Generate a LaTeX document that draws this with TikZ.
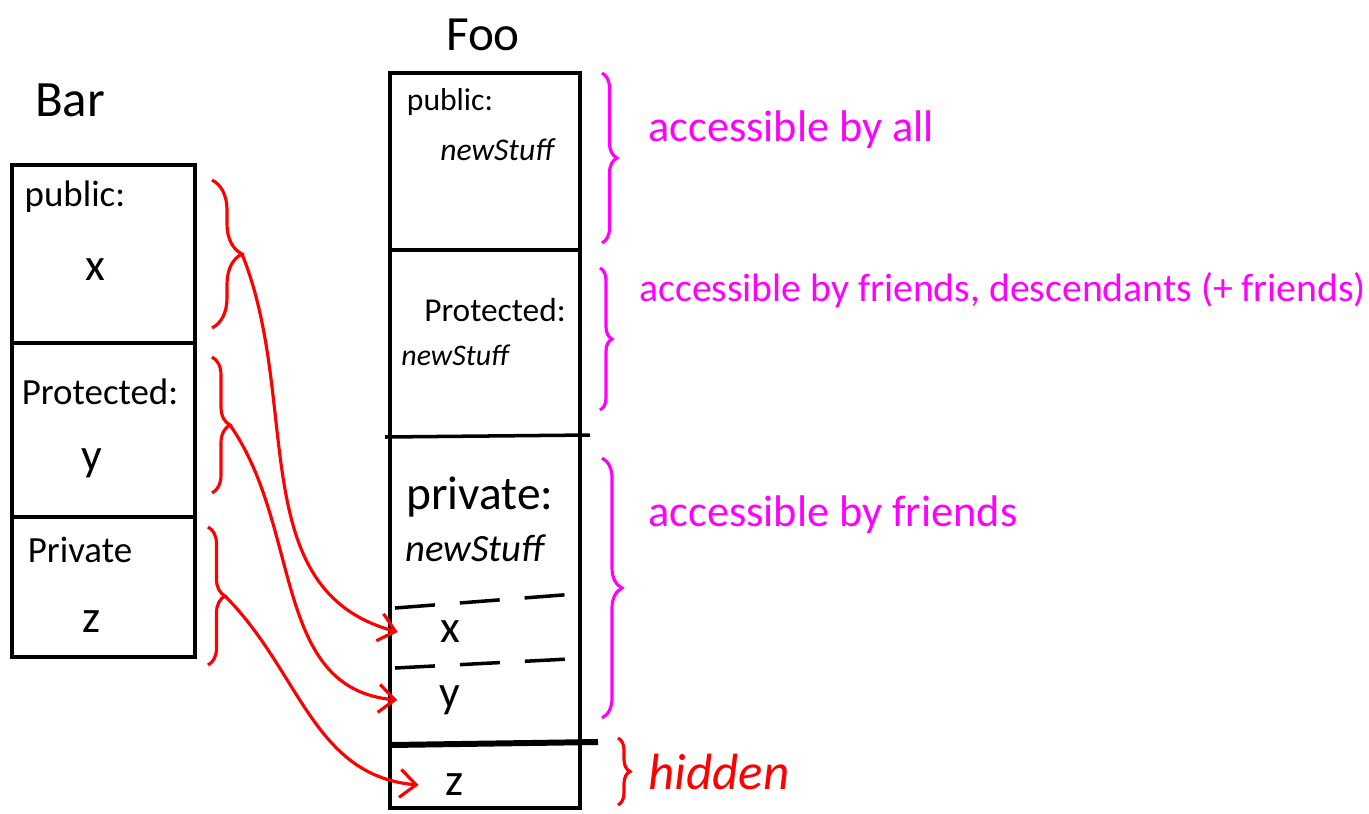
\documentclass[tikz,border=0pt]{standalone}
\usepackage{fontspec}
\setmainfont{Carlito}
\usetikzlibrary{decorations.pathreplacing,arrows.meta}
\definecolor{accent}{RGB}{255,0,255}
\begin{document}
\begin{tikzpicture}[
	box/.style={line width=1pt},
	lbl/.style={font=\fontsize{10.5}{12}\selectfont},
	var/.style={font=\fontsize{13}{15}\selectfont},
	stuff/.style={font=\fontsize{9}{11}\selectfont\itshape},
	note/.style={accent, anchor=west, font=\fontsize{12.6}{15}\selectfont},
	mbrace/.style={accent, line width=0.9pt, decorate, decoration={brace, amplitude=#1}},
	rbrace/.style={red, line width=0.9pt, decorate, decoration={brace, amplitude=#1}},
	link/.style={red, line width=0.9pt, -{Straight Barb[length=1.6mm,width=2.8mm]}}
	]
	\useasboundingbox (0,0) rectangle (13.69,8.13);
	% base class
	\node[font=\fontsize{14.5}{17}\selectfont] (bar) at (0.70,7.13) {Bar};
	\draw[box] (0.12,1.56) rectangle (1.95,6.48);
	\draw[box] (0.12,4.70) -- (1.95,4.70);
	\draw[box] (0.12,2.96) -- (1.95,2.96);
	\node[lbl] (barpub) at (0.75,6.16) {public:};
	\node[var] (barx) at (0.95,5.43) {x};
	\node[lbl] (barprot) at (1.00,4.21) {Protected:};
	\node[var] (bary) at (0.92,3.50) {y};
	\node[lbl] (barpriv) at (0.80,2.63) {Private};
	\node[var] (barz) at (0.92,1.91) {z};
	% derived class
	\node[font=\fontsize{14}{17}\selectfont] (foo) at (4.83,7.78) {Foo};
	\draw[box] (3.90,0.05) rectangle (5.80,7.40);
	\draw[box] (3.90,5.63) -- (5.82,5.63);
	\draw[box] (3.85,3.76) -- (5.90,3.78);
	\draw[box, dashed, dash pattern=on 4mm off 2.5mm] (3.95,2.05) -- (5.88,2.20);
	\draw[box, dashed, dash pattern=on 4mm off 2.5mm] (3.95,1.45) -- (5.88,1.55);
	\draw[line width=1.7pt] (3.90,0.68) -- (5.98,0.71);
	\node[lbl, font=\fontsize{9}{10}\selectfont] (foopub) at (4.50,7.11) {public:};
	\node[stuff] (foonew1) at (4.97,6.63) {newStuff};
	\node[lbl, font=\fontsize{9.5}{11}\selectfont] (fooprot) at (4.95,5.03) {Protected:};
	\node[stuff, font=\fontsize{8.5}{10}\selectfont\itshape] (foonew2) at (4.55,4.58) {newStuff};
	\node[lbl, font=\fontsize{13.5}{15}\selectfont] (foopriv) at (4.80,3.16) {private:};
	\node[stuff, font=\fontsize{11}{13}\selectfont\itshape] (foonew3) at (4.75,2.65) {newStuff};
	\node[var] (foox) at (4.50,1.81) {x};
	\node[var] (fooy) at (4.50,1.13) {y};
	\node[var] (fooz) at (4.55,0.28) {z};
	% access notes
	\draw[mbrace=0.15cm] (6.02,7.40) -- (6.02,5.70);
	\draw[mbrace=0.12cm] (6.00,5.45) -- (6.00,4.03);
	\draw[mbrace=0.2cm] (6.02,3.55) -- (6.02,0.95);
	\draw[rbrace=0.12cm] (6.18,0.75) -- (6.18,0.08);
	\node[note] (all) at (6.36,6.83) {accessible by all};
	\node[note, font=\fontsize{11.3}{13}\selectfont] (desc) at (6.27,5.23) {accessible by friends, descendants (+ friends)};
	\node[note] (friends) at (6.36,2.98) {accessible by friends};
	\node[note, red, font=\fontsize{14.5}{17}\selectfont\itshape] (hidden) at (6.36,0.41) {hidden};
	% inherited members
	\draw[rbrace=0.3cm] (2.12,6.33) -- (2.12,4.85);
	\draw[rbrace=0.18cm] (2.12,4.56) -- (2.12,3.20);
	\draw[rbrace=0.17cm] (2.08,2.86) -- (2.08,1.48);
	\coordinate (tipx) at (2.42,5.59);
	\coordinate (tipy) at (2.30,3.88);
	\coordinate (tipz) at (2.25,2.17);
	\draw[link] (tipx) to[out=-68,in=165] ([xshift=-3mm]foox.west);
	\draw[link] (tipy) to[out=-55,in=175] ([xshift=-3mm]fooy.west);
	\draw[link] (tipz) to[out=-45,in=175] ([xshift=-1.5mm]fooz.west);
\end{tikzpicture}
\end{document}
